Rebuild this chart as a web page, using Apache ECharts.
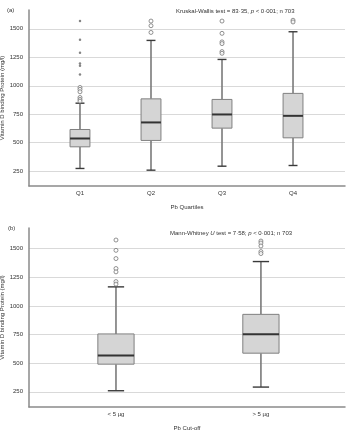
<!DOCTYPE html>
<html>
<head>
<meta charset="utf-8">
<script src="https://cdn.jsdelivr.net/npm/echarts@6/dist/echarts.min.js"></script>
<style>
  html, body { margin: 0; padding: 0; background: #fff; }
  #chart { width: 350px; height: 432px; }
</style>
</head>
<body>
<div id="chart"></div>
<script>
// panel (a): Pb quartiles
const quartiles = ['Q1', 'Q2', 'Q3', 'Q4'];
// [min, Q1, median, Q3, max]
const quartileBoxes = [
  [274, 464, 537, 616, 847],
  [259, 520, 678, 885, 1398],
  [294, 628, 748, 880, 1231],
  [300, 543, 736, 933, 1474]
];
const quartileOutliers = [
  [985, 968, 947, 897, 880, 865],
  [1568, 1527, 1468],
  [1568, 1460, 1385, 1370, 1300, 1285],
  [1575, 1560]
];
const quartileExtremes = [
  [1568, 1403, 1289, 1196, 1175, 1099],
  [],
  [],
  []
];

// panel (b): Pb cut-off
const cutoffs = ['< 5 µg', '> 5 µg'];
const cutoffBoxes = [
  [259, 491, 566, 755, 1166],
  [291, 587, 752, 926, 1387]
];
const cutoffOutliers = [
  [1575, 1485, 1413, 1326, 1297, 1212, 1190],
  [1566, 1549, 1523, 1474, 1457]
];

const yTicks = [250, 500, 750, 1000, 1250, 1500];

const FONT = 'Liberation Sans';
const TXT = '#333';
const FS = 6;

function boxData(boxes) {
  return boxes.map((b, i) => [i + 1].concat(b));
}
function pointData(groups) {
  const out = [];
  groups.forEach((g, i) => g.forEach(v => out.push([i + 1, v])));
  return out;
}

function makeRender(boxW) {
  return function (params, api) {
    const x = api.value(0);
    const pMin = api.coord([x, api.value(1)]);
    const pQ1 = api.coord([x, api.value(2)]);
    const pMed = api.coord([x, api.value(3)]);
    const pQ3 = api.coord([x, api.value(4)]);
    const pMax = api.coord([x, api.value(5)]);
    const w = api.size([boxW, 0])[0];
    const cx = pMed[0];
    const cap = w * 0.45;
    const whisker = { stroke: '#7a7a7a', lineWidth: 1.6 };
    const capStyle = { stroke: '#3a3a3a', lineWidth: 1.4 };
    return {
      type: 'group',
      children: [
        { type: 'line', shape: { x1: cx, y1: pMax[1], x2: cx, y2: pQ3[1] }, style: whisker },
        { type: 'line', shape: { x1: cx, y1: pQ1[1], x2: cx, y2: pMin[1] }, style: whisker },
        { type: 'line', shape: { x1: cx - cap / 2, y1: pMax[1], x2: cx + cap / 2, y2: pMax[1] }, style: capStyle },
        { type: 'line', shape: { x1: cx - cap / 2, y1: pMin[1], x2: cx + cap / 2, y2: pMin[1] }, style: capStyle },
        {
          type: 'rect',
          shape: { x: cx - w / 2, y: pQ3[1], width: w, height: pQ1[1] - pQ3[1] },
          style: { fill: '#d5d5d5', stroke: '#808080', lineWidth: 1 }
        },
        { type: 'line', shape: { x1: cx - w / 2, y1: pMed[1], x2: cx + w / 2, y2: pMed[1] }, style: { stroke: '#333', lineWidth: 2 } }
      ]
    };
  };
}

function yAxisOpt(idx, min, max) {
  return {
    type: 'value',
    gridIndex: idx,
    min: min,
    max: max,
    name: 'Vitamin D binding Protein (mg/l)',
    nameLocation: 'middle',
    nameGap: 24,
    nameMoveOverlap: false,
    nameTextStyle: { color: TXT, fontSize: FS, fontFamily: FONT },
    axisLine: { show: true, lineStyle: { color: '#8a8a8a', width: 1.5 } },
    axisTick: { show: false, customValues: yTicks },
    axisLabel: {
      customValues: yTicks, color: TXT, fontSize: FS, fontFamily: FONT, margin: 6,
      formatter: v => String(v)
    },
    splitLine: { show: true, lineStyle: { color: '#d9d9d9', width: 1 } }
  };
}

function xAxisOpt(idx, min, max, cats, name) {
  const vals = cats.map((c, i) => i + 1);
  return {
    type: 'value',
    gridIndex: idx,
    min: min,
    max: max,
    name: name,
    nameLocation: 'middle',
    nameGap: 18,
    nameMoveOverlap: false,
    nameTextStyle: { color: TXT, fontSize: FS, fontFamily: FONT },
    axisLine: { show: true, lineStyle: { color: '#8a8a8a', width: 1.5 } },
    axisTick: { show: false, customValues: vals },
    axisLabel: {
      customValues: vals,
      color: TXT, fontSize: FS, fontFamily: FONT, margin: 4,
      formatter: v => cats[Math.round(v) - 1] || ''
    },
    splitLine: { show: false }
  };
}

const titleRich = {
  i: { fontStyle: 'italic', fontSize: FS, fontFamily: FONT, color: TXT }
};

const chart = echarts.init(document.getElementById('chart'), null, { renderer: 'canvas' });
chart.setOption({
  animation: false,
  backgroundColor: '#fff',
  title: [
    { text: '(a)', left: 2, top: 2, textStyle: { fontSize: FS, fontWeight: 'normal', color: TXT, fontFamily: FONT } },
    { text: '(b)', left: 3, top: 220, textStyle: { fontSize: FS, fontWeight: 'normal', color: TXT, fontFamily: FONT } },
    {
      text: 'Kruskal-Wallis test = 83·35, {i|p} < 0·001; n 703',
      left: 171, top: 3,
      textStyle: { fontSize: FS, fontWeight: 'normal', color: TXT, fontFamily: FONT, rich: titleRich }
    },
    {
      text: 'Mann-Whitney {i|U} test = 7·58; {i|p} < 0·001; n 703',
      left: 165, top: 225,
      textStyle: { fontSize: FS, fontWeight: 'normal', color: TXT, fontFamily: FONT, rich: titleRich }
    }
  ],
  grid: [
    { left: 29, right: 5, top: 10, height: 176, containLabel: false, outerBoundsMode: 'none' },
    { left: 29, right: 5, top: 228, height: 179, containLabel: false, outerBoundsMode: 'none' }
  ],
  xAxis: [
    xAxisOpt(0, 0.282, 4.732, quartiles, 'Pb Quartiles'),
    xAxisOpt(1, 0.4, 2.58, cutoffs, 'Pb Cut-off')
  ],
  yAxis: [
    yAxisOpt(0, 120, 1665),
    yAxisOpt(1, 117, 1680)
  ],
  series: [
    {
      type: 'custom', xAxisIndex: 0, yAxisIndex: 0,
      renderItem: makeRender(0.28),
      encode: { x: 0, y: [1, 2, 3, 4, 5] },
      data: boxData(quartileBoxes)
    },
    {
      type: 'scatter', xAxisIndex: 0, yAxisIndex: 0,
      symbol: 'circle', symbolSize: 4,
      itemStyle: { color: '#fff', borderColor: '#777', borderWidth: 1 },
      data: pointData(quartileOutliers)
    },
    {
      type: 'scatter', xAxisIndex: 0, yAxisIndex: 0,
      symbol: 'circle', symbolSize: 2.5,
      itemStyle: { color: '#666' },
      data: pointData(quartileExtremes)
    },
    {
      type: 'custom', xAxisIndex: 1, yAxisIndex: 1,
      renderItem: makeRender(0.25),
      encode: { x: 0, y: [1, 2, 3, 4, 5] },
      data: boxData(cutoffBoxes)
    },
    {
      type: 'scatter', xAxisIndex: 1, yAxisIndex: 1,
      symbol: 'circle', symbolSize: 4,
      itemStyle: { color: '#fff', borderColor: '#777', borderWidth: 1 },
      data: pointData(cutoffOutliers)
    }
  ]
});
</script>
</body>
</html>
